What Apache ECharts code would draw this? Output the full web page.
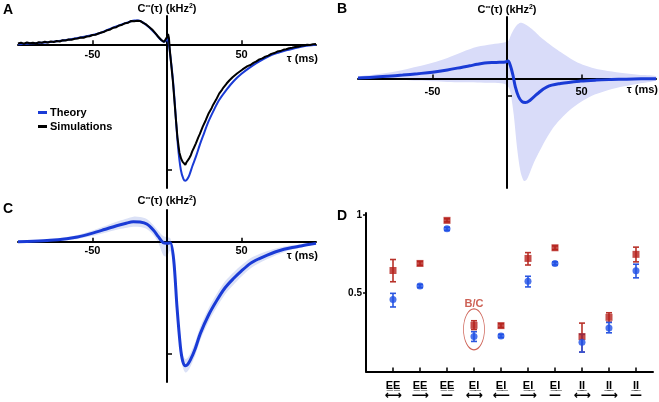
<!DOCTYPE html>
<html><head><meta charset="utf-8">
<script src="https://cdn.jsdelivr.net/npm/echarts@6/dist/echarts.min.js"></script>
<style>html,body{margin:0;padding:0;background:#fff}#c{width:659px;height:402px}</style>
</head><body><div id="c"></div>
<script>
// ---------- Panel A ----------
var aTau = [-100,-90,-80,-70,-60,-50,-45,-40,-35,-30,-25,-22,-19,-16,-13,-10,-7,-5,-3,-1.5,0,0.8,1.5,2.5,3.8,5,6,7.6,9.3,11,12.3,13.5,15,17,19.4,22,24,28,32,35,40,45,50,55,60,65,70,75,80,85,90,95,100];
var aTheory = [0.0,0.008,0.016,0.03,0.05,0.074,0.09,0.115,0.138,0.16,0.18,0.19,0.19,0.172,0.145,0.112,0.075,0.046,0.025,0.022,0.04,0.03,-0.02,-0.12,-0.26,-0.43,-0.6,-0.84,-1.0,-1.07,-1.085,-1.075,-1.04,-0.97,-0.894,-0.80,-0.735,-0.61,-0.51,-0.443,-0.36,-0.29,-0.235,-0.19,-0.15,-0.115,-0.085,-0.065,-0.048,-0.033,-0.02,-0.01,-0.003];
var aSim = [[-100,0.006],[-98,0.012],[-96,0.004],[-94,0.014],[-92,0.008],[-90,0.012],[-88,0.006],[-86,0.016],[-84,0.012],[-82,0.02],[-80,0.014],[-78,0.022],[-76,0.018],[-74,0.026],[-72,0.022],[-70,0.032],[-68,0.03],[-66,0.038],[-64,0.036],[-62,0.044],[-60,0.046],[-58,0.054],[-56,0.052],[-54,0.062],[-52,0.064],[-50,0.074],[-48,0.076],[-46,0.086],[-44,0.094],[-42,0.1],[-40,0.112],[-38,0.118],[-36,0.132],[-34,0.136],[-32,0.15],[-30,0.156],[-28,0.168],[-26,0.172],[-24,0.186],[-22,0.184],[-21,0.196],[-20,0.188],[-18,0.186],[-16,0.17],[-14,0.158],[-12,0.138],[-10,0.118],[-8,0.09],[-6,0.062],[-4,0.036],[-3,0.024],[-2,0.018],[-1,0.03],[0,0.058],[0.7,0.082],[1.3,0.05],[2,-0.06],[3,-0.18],[4,-0.3],[5,-0.45],[6,-0.6],[7,-0.74],[8.3,-0.86],[9.5,-0.91],[10.5,-0.935],[11.5,-0.94],[12.3,-0.958],[13,-0.94],[14,-0.938],[15,-0.905],[16,-0.882],[17,-0.85],[18,-0.825],[19.4,-0.788],[21,-0.74],[22,-0.715],[24,-0.655],[26,-0.604],[28,-0.548],[30,-0.506],[31,-0.48],[33,-0.44],[35,-0.392],[37,-0.36],[38,-0.342],[40,-0.312],[41.8,-0.288],[44,-0.262],[45,-0.25],[47,-0.232],[48,-0.218],[50.7,-0.2],[52,-0.19],[54,-0.174],[56,-0.165],[58,-0.148],[60,-0.136],[62,-0.12],[64,-0.112],[66,-0.098],[68,-0.09],[70,-0.076],[72,-0.07],[74,-0.058],[76,-0.054],[78,-0.044],[80,-0.04],[82,-0.032],[84,-0.028],[86,-0.022],[88,-0.02],[90,-0.012],[92,-0.01],[94,-0.004],[96,-0.006],[98,0.0],[100,0.002]];

// ---------- Panel B ----------
var bTau = [-100,-90,-80,-70,-60,-50,-40,-30,-25,-20,-15,-10,-5,-1,0.7,2.2,4,5.6,7.8,10.1,12.3,15.7,20.2,26.9,35.9,49.3,60,70,80,90,100];
var bLine = [0.03,0.07,0.13,0.2,0.28,0.37,0.5,0.66,0.74,0.83,0.9,0.93,0.94,0.96,1.02,0.77,0.19,-0.48,-1.06,-1.35,-1.4,-1.25,-0.9,-0.48,-0.29,-0.15,-0.09,-0.06,-0.04,-0.02,-0.01];
var bBandTau = [-100,-90,-80,-70,-60,-50,-40,-30,-20,-10,-2,1,2.5,4.5,6.7,9,11.2,13,15,18,22,27,32,36,42,49,57,65,76,88,100];
var bUpper = [0.1,0.22,0.34,0.5,0.7,0.92,1.2,1.55,1.85,2.0,2.1,2.2,2.5,2.85,3.12,3.25,3.2,3.12,3.0,2.78,2.45,2.1,1.78,1.54,1.2,0.87,0.63,0.48,0.34,0.22,0.13];
var bLower = [-0.02,-0.04,-0.06,-0.09,-0.12,-0.16,-0.2,-0.22,-0.23,-0.25,-0.3,-0.5,-0.9,-2.1,-4.0,-5.4,-5.95,-5.9,-5.55,-4.9,-4.2,-3.4,-2.75,-2.35,-1.85,-1.4,-1.0,-0.75,-0.5,-0.3,-0.12];

// ---------- Panel C ----------
var cTau = [-100,-90,-78.5,-67.3,-60,-50.5,-42,-33.8,-28,-22.6,-18.1,-13.6,-9.2,-5.8,-2.5,0,2.2,4.5,6.7,9,10.5,12.3,14,15.7,19,22.4,28,33.6,39,44.8,50,56,62,67.3,73,78.5,84,89.7,95,100];
var cLine = [0,0.004,0.012,0.027,0.042,0.074,0.108,0.142,0.162,0.178,0.175,0.157,0.104,0.045,-0.01,-0.015,-0.01,-0.163,-0.58,-0.935,-1.06,-1.104,-1.09,-1.053,-0.95,-0.816,-0.65,-0.519,-0.41,-0.326,-0.26,-0.193,-0.15,-0.119,-0.09,-0.068,-0.052,-0.039,-0.025,-0.015];
var cUpper = [0.004,0.01,0.022,0.041,0.06,0.098,0.138,0.178,0.202,0.223,0.22,0.202,0.149,0.095,0.05,0.04,0.03,-0.11,-0.53,-0.885,-1.005,-1.044,-1.03,-0.993,-0.89,-0.756,-0.59,-0.459,-0.352,-0.271,-0.21,-0.147,-0.11,-0.083,-0.06,-0.043,-0.032,-0.024,-0.015,-0.009];
var cLower = [-0.004,-0.002,0.002,0.013,0.024,0.05,0.078,0.106,0.122,0.133,0.13,0.112,0.059,-0.01,-0.12,-0.13,-0.08,-0.213,-0.63,-0.985,-1.115,-1.164,-1.15,-1.113,-1.01,-0.876,-0.71,-0.579,-0.468,-0.381,-0.31,-0.239,-0.19,-0.155,-0.12,-0.093,-0.072,-0.054,-0.035,-0.021];

// ---------- Panel D ----------
var dPos = [1,2,3,4,5,6,7,8,9,10];
var dCats = ['E̲E̲','E̲E̲','E̲E̲','E̲I̲','E̲I̲','E̲I̲','E̲I̲','I̲I̲','I̲I̲','I̲I̲'];
var dArrows = ['⟷','⟶','—','⟷','⟵','⟶','—','⟷','⟶','—'];
var redVal = [0.645,0.69,0.965,0.295,0.293,0.722,0.79,0.223,0.346,0.748];
var redLo  = [0.573,0.678,0.955,0.268,0.281,0.68,0.778,0.124,0.315,0.70];
var redHi  = [0.715,0.702,0.975,0.324,0.305,0.759,0.802,0.309,0.375,0.794];
var blueVal = [0.46,0.546,0.911,0.223,0.227,0.577,0.69,0.186,0.278,0.643];
var blueLo  = [0.412,0.536,0.901,0.192,0.217,0.54,0.68,0.124,0.247,0.598];
var blueHi  = [0.499,0.556,0.921,0.254,0.237,0.608,0.70,0.237,0.313,0.685];
var dYTicks = [0.5, 1];
var bcMark = [[4, 0.269]];

var FONT = "'Liberation Sans', Arial, sans-serif";
var BLUE = '#1a3bd6';
var RED = '#b5201c';

function zip(xs, ys){ var o=[]; for (var i=0;i<xs.length;i++) o.push([xs[i], ys[i]]); return o; }

function band(xs, lo, hi, idx, color){
  return {
    type:'custom', xAxisIndex:idx, yAxisIndex:idx, z:-1, silent:true,
    data:[[xs[0], lo[0]]],
    renderItem: function(params, api){
      var pts = [];
      for (var i=0;i<xs.length;i++) pts.push(api.coord([xs[i], hi[i]]));
      for (var j=xs.length-1;j>=0;j--) pts.push(api.coord([xs[j], lo[j]]));
      return {type:'polygon', shape:{points:pts, smooth:0.3}, style:{fill:color}};
    }
  };
}

function errBars(lo, hi, color){
  var data = [];
  for (var i=0;i<dPos.length;i++) data.push([dPos[i], lo[i], hi[i]]);
  return {
    type:'custom', xAxisIndex:3, yAxisIndex:3, silent:true, z:3, data:data,
    renderItem: function(params, api){
      var x = api.value(0);
      var p1 = api.coord([x, api.value(2)]), p2 = api.coord([x, api.value(1)]);
      var w = 3;
      var st = {stroke:color, lineWidth:1.6};
      return {type:'group', children:[
        {type:'line', shape:{x1:p1[0],y1:p1[1],x2:p2[0],y2:p2[1]}, style:st},
        {type:'line', shape:{x1:p1[0]-w,y1:p1[1],x2:p1[0]+w,y2:p1[1]}, style:st},
        {type:'line', shape:{x1:p2[0]-w,y1:p2[1],x2:p2[0]+w,y2:p2[1]}, style:st}
      ]};
    }
  };
}

var nameRich = {
  n:{fontSize:11, fontWeight:'bold', fontFamily:FONT, color:'#000'},
  s:{fontSize:7, fontWeight:'bold', fontFamily:FONT, color:'#000', verticalAlign:'top', padding:[0,0,5,0]}
};
var yName = '{n|C}{s|∞}{n|(τ) (kHz}{s|2}{n|)}';

function tauX(idx, labelMargin){
  return {
    type:'value', gridIndex:idx, min:-100, max:100,
    name:'τ (ms)', nameLocation:'end', nameGap:2,
    nameTextStyle:{align:'right', verticalAlign:'top', padding:[idx===1?6:9,0,0,0], fontSize:11, fontWeight:'bold', fontFamily:FONT, color:'#000'},
    axisLine:{onZero:true, lineStyle:{color:'#000', width:2}},
    axisTick:{show:true, inside:true, length:4, customValues:[-50,50], lineStyle:{color:'#000', width:1.5}},
    axisLabel:{customValues:[-50,50], margin:labelMargin, fontSize:11, fontWeight:'bold', fontFamily:FONT, color:'#000'},
    splitLine:{show:false}
  };
}
function cY(idx, mn, mx, gap){
  return {
    type:'value', gridIndex:idx, min:mn, max:mx,
    name:yName, nameLocation:'end', nameGap:gap,
    nameTextStyle:{rich:nameRich, align:'center'},
    axisLine:{onZero:true, lineStyle:{color:'#000', width:2}},
    axisTick:{show:true, inside:true, length:5, customValues:[-1], lineStyle:{color:'#000', width:1.5}},
    axisLabel:{show:false},
    splitLine:{show:false}
  };
}

var option = {
  animation:false,
  backgroundColor:'#fff',
  textStyle:{fontFamily:FONT},
  grid:[
    {left:18, top:16, width:298, height:172},
    {left:358, top:17, width:298, height:171},
    {left:18, top:210, width:298, height:172},
    {left:366, top:213, width:287, height:164}
  ],
  legend:{
    data:['Theory','Simulations'], orient:'vertical', left:33, top:102,
    itemWidth:9, itemHeight:3, itemGap:3, icon:'rect', selectedMode:false,
    textStyle:{fontSize:11, fontWeight:'bold', color:'#000', fontFamily:FONT, padding:[0,0,0,-2]}
  },
  xAxis:[
    tauX(0, -139), tauX(1, -102), tauX(2, -137),
    {type:'value', gridIndex:3, min:0, max:10.63,
     axisLine:{onZero:false, lineStyle:{color:'#000', width:2}},
     axisTick:{show:true, inside:true, length:4, customValues:dPos, lineStyle:{color:'#000', width:1.5}},
     axisLabel:{customValues:dPos, margin:9, interval:0,
       formatter:function(v){ var i=Math.round(v)-1; return '{a|'+dCats[i]+'}\n{b|'+dArrows[i]+'}'; },
       rich:{a:{fontSize:11, fontWeight:'bold', fontFamily:FONT, color:'#000', lineHeight:11},
             b:{fontSize:12, fontWeight:'bold', fontFamily:'DejaVu Sans', color:'#000', lineHeight:9}}},
     splitLine:{show:false}}
  ],
  yAxis:[
    cY(0, -1.143, 0.225, 1),
    cY(1, -6.37, 3.58, 1),
    cY(2, -1.249, 0.282, 3),
    {type:'value', gridIndex:3, min:0, max:1.012,
     axisLine:{onZero:false, lineStyle:{color:'#000', width:2}},
     axisTick:{show:true, inside:false, length:3, customValues:dYTicks, lineStyle:{color:'#000', width:1.5}},
     axisLabel:{customValues:dYTicks, margin:4, fontSize:10, fontWeight:'bold', fontFamily:FONT, color:'#000',
       formatter:function(v){ return v===1?'1':String(v); }},
     splitLine:{show:false}}
  ],
  graphic:[
    {type:'text', left:3, top:3, style:{text:'A', fontSize:14, fontWeight:'bold', fontFamily:FONT, fill:'#000'}},
    {type:'text', left:337, top:2, style:{text:'B', fontSize:14, fontWeight:'bold', fontFamily:FONT, fill:'#000'}},
    {type:'text', left:3, top:202, style:{text:'C', fontSize:14, fontWeight:'bold', fontFamily:FONT, fill:'#000'}},
    {type:'text', left:337, top:209, style:{text:'D', fontSize:14, fontWeight:'bold', fontFamily:FONT, fill:'#000'}}
  ],
  series:[
    {name:'Theory', type:'line', xAxisIndex:0, yAxisIndex:0, data:zip(aTau, aTheory), smooth:0.3, showSymbol:false,
     lineStyle:{color:BLUE, width:2}, itemStyle:{color:BLUE}, z:2},
    {name:'Simulations', type:'line', xAxisIndex:0, yAxisIndex:0, data:aSim, smooth:false, showSymbol:false,
     lineStyle:{color:'#000', width:2}, itemStyle:{color:'#000'}, z:3},
    band(bBandTau, bLower, bUpper, 1, '#d9dcf9'),
    {name:'B theory', type:'line', xAxisIndex:1, yAxisIndex:1, data:zip(bTau, bLine), smooth:0.35, showSymbol:false,
     lineStyle:{color:BLUE, width:3}, z:2},
    band(cTau, cLower, cUpper, 2, '#dbe1f6'),
    {name:'C theory', type:'line', xAxisIndex:2, yAxisIndex:2, data:zip(cTau, cLine), smooth:0.3, showSymbol:false,
     lineStyle:{color:BLUE, width:3}, z:2},
    errBars(redLo, redHi, '#b8322a'),
    errBars(blueLo, blueHi, '#2a56e0'),
    {name:'D red', type:'scatter', xAxisIndex:3, yAxisIndex:3, data:zip(dPos, redVal), symbol:'rect', symbolSize:7,
     itemStyle:{color:RED}, z:4},
    {name:'D blue', type:'scatter', xAxisIndex:3, yAxisIndex:3, data:zip(dPos, blueVal), symbol:'circle', symbolSize:7,
     itemStyle:{color:'#1f50e6'}, z:4},
    {name:'B/C', type:'scatter', xAxisIndex:3, yAxisIndex:3, data:bcMark, symbol:'circle', symbolSize:[21,41],
     itemStyle:{color:'rgba(0,0,0,0)', borderColor:'#c0392b', borderWidth:1}, silent:true, z:5,
     label:{show:true, formatter:'B/C', position:'top', distance:1, offset:[0,2], color:'#c0392b', fontSize:11, fontWeight:'bold', fontFamily:FONT}}
  ]
};
var chart = echarts.init(document.getElementById('c'), null, {renderer:'canvas'});
chart.setOption(option);
</script></body></html>
